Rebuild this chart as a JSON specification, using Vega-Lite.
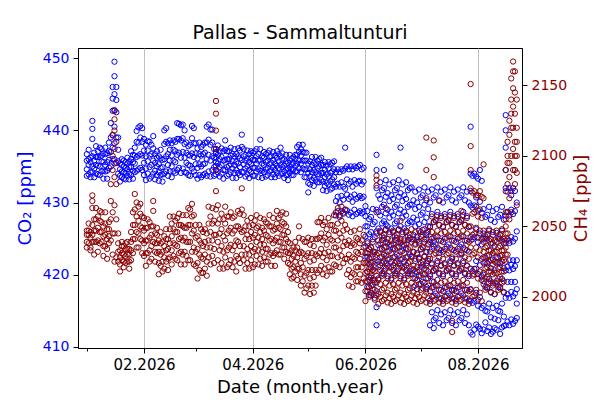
{
  "$schema": "https://vega.github.io/schema/vega-lite/v6.json",
  "width": 444,
  "height": 300,
  "autosize": {"type": "none"},
  "padding": {"left": 78, "top": 48, "right": 78, "bottom": 52},
  "title": {"text": "Pallas - Sammaltunturi", "fontSize": 19, "fontWeight": "normal", "font": "DejaVu Sans", "color": "black", "offset": 5},
  "config": {
    "font": "DejaVu Sans",
    "view": {"stroke": "black", "strokeWidth": 1},
    "axis": {"domainColor": "black", "tickColor": "black", "tickSize": 5, "labelPadding": 4, "titleFontWeight": "normal", "titleFontSize": 18, "labelFontSize": 14, "grid": false}
  },
  "data": {"values": [
{"d":"2026-01-01","c":433.7,"m":2044},{"d":"2026-01-01","c":434.6,"m":2035},{"d":"2026-01-01","c":435.8,"m":2047},{"d":"2026-01-01","c":436.7,"m":2039},
{"d":"2026-01-02","c":433.9,"m":2044},{"d":"2026-01-02","c":435.2,"m":2052},{"d":"2026-01-02","c":436.0,"m":2038},{"d":"2026-01-02","c":437.3,"m":2047},
{"d":"2026-01-03","c":433.5,"m":2042},{"d":"2026-01-03","c":434.2,"m":2033},{"d":"2026-01-03","c":435.6,"m":2046},{"d":"2026-01-03","c":436.2,"m":2035},
{"d":"2026-01-04","c":434.2,"m":2051},{"d":"2026-01-04","c":436.4,"m":2039},{"d":"2026-01-04","c":438.8,"m":2063},{"d":"2026-01-04","c":441.3,"m":2072},{"d":"2026-01-04","c":440.2,"m":2068},{"d":"2026-01-04","c":435.0,"m":2044},
{"d":"2026-01-05","c":433.5,"m":2047},{"d":"2026-01-05","c":434.7,"m":2030},{"d":"2026-01-05","c":435.8,"m":2055},{"d":"2026-01-05","c":436.9,"m":2039},
{"d":"2026-01-06","c":434.0,"m":2055},{"d":"2026-01-06","c":435.2,"m":2039},{"d":"2026-01-06","c":436.3,"m":2063},{"d":"2026-01-06","c":437.8,"m":2047},
{"d":"2026-01-07","c":433.9,"m":2049},{"d":"2026-01-07","c":435.1,"m":2032},{"d":"2026-01-07","c":436.3,"m":2057},{"d":"2026-01-07","c":437.1,"m":2040},
{"d":"2026-01-08","c":433.8,"m":2054},{"d":"2026-01-08","c":435.0,"m":2038},{"d":"2026-01-08","c":436.3,"m":2061},{"d":"2026-01-08","c":437.6,"m":2046},
{"d":"2026-01-09","c":434.3,"m":2053},{"d":"2026-01-09","c":435.7,"m":2039},{"d":"2026-01-09","c":436.5,"m":2060},{"d":"2026-01-09","c":437.4,"m":2046},
{"d":"2026-01-10","c":433.3,"m":2043},{"d":"2026-01-10","c":434.4,"m":2029},{"d":"2026-01-10","c":435.6,"m":2050},{"d":"2026-01-10","c":436.8,"m":2036},
{"d":"2026-01-11","c":434.3,"m":2052},{"d":"2026-01-11","c":435.2,"m":2036},{"d":"2026-01-11","c":436.7,"m":2060},{"d":"2026-01-11","c":437.6,"m":2044},
{"d":"2026-01-12","c":433.3,"m":2041},{"d":"2026-01-12","c":434.4,"m":2027},{"d":"2026-01-12","c":435.6,"m":2048},{"d":"2026-01-12","c":436.8,"m":2034},
{"d":"2026-01-13","c":434.8,"m":2048},{"d":"2026-01-13","c":435.9,"m":2038},{"d":"2026-01-13","c":437.1,"m":2053},{"d":"2026-01-13","c":438.3,"m":2043},
{"d":"2026-01-14","c":435.0,"m":2055},{"d":"2026-01-14","c":437.0,"m":2040},{"d":"2026-01-14","c":439.0,"m":2080},{"d":"2026-01-14","c":441.0,"m":2068},
{"d":"2026-01-15","c":436.0,"m":2060},{"d":"2026-01-15","c":439.3,"m":2030},{"d":"2026-01-15","c":442.7,"m":2115},{"d":"2026-01-15","c":446.0,"m":2090},{"d":"2026-01-15","c":444.4,"m":2100},{"d":"2026-01-15","c":437.6,"m":2045},
{"d":"2026-01-16","c":436.0,"m":2065},{"d":"2026-01-16","c":440.5,"m":2025},{"d":"2026-01-16","c":445.0,"m":2132},{"d":"2026-01-16","c":449.5,"m":2105},{"d":"2026-01-16","c":447.5,"m":2126},{"d":"2026-01-16","c":442.8,"m":2118},{"d":"2026-01-16","c":438.2,"m":2085},{"d":"2026-01-16","c":435.4,"m":2045},
{"d":"2026-01-17","c":435.5,"m":2055},{"d":"2026-01-17","c":439.0,"m":2028},{"d":"2026-01-17","c":442.5,"m":2110},{"d":"2026-01-17","c":446.0,"m":2080},{"d":"2026-01-17","c":444.2,"m":2095},
{"d":"2026-01-18","c":434.0,"m":2032},{"d":"2026-01-18","c":435.7,"m":2025},{"d":"2026-01-18","c":437.3,"m":2045},{"d":"2026-01-18","c":439.0,"m":2038},
{"d":"2026-01-19","c":432.9,"m":2028},{"d":"2026-01-19","c":433.7,"m":2018},{"d":"2026-01-19","c":434.6,"m":2033},{"d":"2026-01-19","c":435.4,"m":2023},
{"d":"2026-01-20","c":433.5,"m":2036},{"d":"2026-01-20","c":434.3,"m":2026},{"d":"2026-01-20","c":435.2,"m":2039},{"d":"2026-01-20","c":436.0,"m":2031},
{"d":"2026-01-21","c":433.3,"m":2030},{"d":"2026-01-21","c":434.2,"m":2021},{"d":"2026-01-21","c":435.0,"m":2036},{"d":"2026-01-21","c":435.8,"m":2025},
{"d":"2026-01-22","c":433.2,"m":2034},{"d":"2026-01-22","c":434.1,"m":2024},{"d":"2026-01-22","c":434.8,"m":2038},{"d":"2026-01-22","c":435.6,"m":2029},
{"d":"2026-01-23","c":433.7,"m":2034},{"d":"2026-01-23","c":434.6,"m":2025},{"d":"2026-01-23","c":435.4,"m":2039},{"d":"2026-01-23","c":436.2,"m":2030},
{"d":"2026-01-24","c":433.2,"m":2030},{"d":"2026-01-24","c":434.0,"m":2020},{"d":"2026-01-24","c":434.9,"m":2034},{"d":"2026-01-24","c":435.7,"m":2025},
{"d":"2026-01-25","c":433.8,"m":2039},{"d":"2026-01-25","c":434.9,"m":2026},{"d":"2026-01-25","c":436.0,"m":2046},{"d":"2026-01-25","c":437.1,"m":2033},
{"d":"2026-01-26","c":433.3,"m":2051},{"d":"2026-01-26","c":434.4,"m":2031},{"d":"2026-01-26","c":435.6,"m":2060},{"d":"2026-01-26","c":436.6,"m":2041},
{"d":"2026-01-27","c":434.2,"m":2062},{"d":"2026-01-27","c":435.4,"m":2041},{"d":"2026-01-27","c":436.5,"m":2073},{"d":"2026-01-27","c":437.6,"m":2051},
{"d":"2026-01-28","c":434.4,"m":2057},{"d":"2026-01-28","c":436.3,"m":2035},{"d":"2026-01-28","c":438.4,"m":2067},{"d":"2026-01-28","c":439.9,"m":2046},
{"d":"2026-01-29","c":434.6,"m":2054},{"d":"2026-01-29","c":436.5,"m":2035},{"d":"2026-01-29","c":438.3,"m":2064},{"d":"2026-01-29","c":440.4,"m":2045},
{"d":"2026-01-30","c":434.8,"m":2059},{"d":"2026-01-30","c":436.7,"m":2041},{"d":"2026-01-30","c":439.0,"m":2066},{"d":"2026-01-30","c":440.6,"m":2050},
{"d":"2026-01-31","c":434.5,"m":2049},{"d":"2026-01-31","c":436.5,"m":2031},{"d":"2026-01-31","c":438.4,"m":2057},{"d":"2026-01-31","c":440.3,"m":2040},
{"d":"2026-02-01","c":433.8,"m":2047},{"d":"2026-02-01","c":435.5,"m":2029},{"d":"2026-02-01","c":437.2,"m":2056},{"d":"2026-02-01","c":438.8,"m":2038},
{"d":"2026-02-02","c":433.1,"m":2040},{"d":"2026-02-02","c":434.7,"m":2022},{"d":"2026-02-02","c":436.4,"m":2049},{"d":"2026-02-02","c":438.0,"m":2031},
{"d":"2026-02-03","c":434.0,"m":2049},{"d":"2026-02-03","c":435.7,"m":2031},{"d":"2026-02-03","c":437.2,"m":2055},{"d":"2026-02-03","c":438.5,"m":2040},
{"d":"2026-02-04","c":433.3,"m":2042},{"d":"2026-02-04","c":434.9,"m":2025},{"d":"2026-02-04","c":436.5,"m":2053},{"d":"2026-02-04","c":438.4,"m":2033},
{"d":"2026-02-05","c":433.6,"m":2044},{"d":"2026-02-05","c":435.2,"m":2027},{"d":"2026-02-05","c":436.7,"m":2050},{"d":"2026-02-05","c":438.0,"m":2036},
{"d":"2026-02-06","c":434.0,"m":2061},{"d":"2026-02-06","c":435.8,"m":2039},{"d":"2026-02-06","c":437.5,"m":2068},{"d":"2026-02-06","c":439.2,"m":2050},
{"d":"2026-02-07","c":433.2,"m":2038},{"d":"2026-02-07","c":434.4,"m":2025},{"d":"2026-02-07","c":435.5,"m":2045},{"d":"2026-02-07","c":436.7,"m":2032},
{"d":"2026-02-08","c":433.8,"m":2044},{"d":"2026-02-08","c":435.0,"m":2031},{"d":"2026-02-08","c":436.2,"m":2049},{"d":"2026-02-08","c":437.1,"m":2038},
{"d":"2026-02-09","c":433.0,"m":2032},{"d":"2026-02-09","c":434.2,"m":2016},{"d":"2026-02-09","c":435.3,"m":2040},{"d":"2026-02-09","c":436.4,"m":2024},
{"d":"2026-02-10","c":433.8,"m":2038},{"d":"2026-02-10","c":434.8,"m":2022},{"d":"2026-02-10","c":436.1,"m":2046},{"d":"2026-02-10","c":437.3,"m":2030},
{"d":"2026-02-11","c":432.9,"m":2032},{"d":"2026-02-11","c":433.9,"m":2018},{"d":"2026-02-11","c":434.9,"m":2039},{"d":"2026-02-11","c":435.9,"m":2025},
{"d":"2026-02-12","c":434.0,"m":2036},{"d":"2026-02-12","c":436.0,"m":2020},{"d":"2026-02-12","c":438.1,"m":2043},{"d":"2026-02-12","c":440.0,"m":2028},
{"d":"2026-02-13","c":434.3,"m":2041},{"d":"2026-02-13","c":436.4,"m":2025},{"d":"2026-02-13","c":438.4,"m":2048},{"d":"2026-02-13","c":440.3,"m":2033},
{"d":"2026-02-14","c":433.7,"m":2034},{"d":"2026-02-14","c":435.2,"m":2019},{"d":"2026-02-14","c":436.7,"m":2041},{"d":"2026-02-14","c":438.2,"m":2027},
{"d":"2026-02-15","c":434.3,"m":2048},{"d":"2026-02-15","c":435.8,"m":2028},{"d":"2026-02-15","c":437.3,"m":2057},{"d":"2026-02-15","c":438.6,"m":2038},
{"d":"2026-02-16","c":433.5,"m":2043},{"d":"2026-02-16","c":435.0,"m":2023},{"d":"2026-02-16","c":436.5,"m":2052},{"d":"2026-02-16","c":438.2,"m":2033},
{"d":"2026-02-17","c":434.3,"m":2048},{"d":"2026-02-17","c":435.8,"m":2029},{"d":"2026-02-17","c":437.3,"m":2057},{"d":"2026-02-17","c":438.6,"m":2038},
{"d":"2026-02-18","c":434.1,"m":2046},{"d":"2026-02-18","c":435.6,"m":2027},{"d":"2026-02-18","c":437.1,"m":2054},{"d":"2026-02-18","c":438.4,"m":2037},
{"d":"2026-02-19","c":434.5,"m":2046},{"d":"2026-02-19","c":436.6,"m":2026},{"d":"2026-02-19","c":438.8,"m":2056},{"d":"2026-02-19","c":441.0,"m":2036},
{"d":"2026-02-20","c":434.8,"m":2051},{"d":"2026-02-20","c":436.9,"m":2031},{"d":"2026-02-20","c":438.8,"m":2059},{"d":"2026-02-20","c":440.9,"m":2041},
{"d":"2026-02-21","c":434.1,"m":2042},{"d":"2026-02-21","c":436.2,"m":2023},{"d":"2026-02-21","c":438.6,"m":2051},{"d":"2026-02-21","c":440.7,"m":2032},
{"d":"2026-02-22","c":434.7,"m":2050},{"d":"2026-02-22","c":437.0,"m":2030},{"d":"2026-02-22","c":438.9,"m":2058},{"d":"2026-02-22","c":440.8,"m":2040},
{"d":"2026-02-23","c":434.2,"m":2042},{"d":"2026-02-23","c":436.2,"m":2023},{"d":"2026-02-23","c":438.1,"m":2049},{"d":"2026-02-23","c":440.0,"m":2032},
{"d":"2026-02-24","c":434.1,"m":2049},{"d":"2026-02-24","c":435.5,"m":2029},{"d":"2026-02-24","c":436.9,"m":2058},{"d":"2026-02-24","c":438.3,"m":2039},
{"d":"2026-02-25","c":433.8,"m":2051},{"d":"2026-02-25","c":435.2,"m":2026},{"d":"2026-02-25","c":436.6,"m":2063},{"d":"2026-02-25","c":437.8,"m":2039},
{"d":"2026-02-26","c":433.7,"m":2051},{"d":"2026-02-26","c":435.1,"m":2026},{"d":"2026-02-26","c":436.5,"m":2062},{"d":"2026-02-26","c":438.0,"m":2039},
{"d":"2026-02-27","c":434.7,"m":2057},{"d":"2026-02-27","c":436.8,"m":2032},{"d":"2026-02-27","c":438.9,"m":2066},{"d":"2026-02-27","c":440.6,"m":2045},
{"d":"2026-02-28","c":434.3,"m":2047},{"d":"2026-02-28","c":436.3,"m":2023},{"d":"2026-02-28","c":438.2,"m":2058},{"d":"2026-02-28","c":440.3,"m":2035},
{"d":"2026-03-01","c":433.8,"m":2042},{"d":"2026-03-01","c":435.3,"m":2022},{"d":"2026-03-01","c":436.8,"m":2051},{"d":"2026-03-01","c":438.2,"m":2032},
{"d":"2026-03-02","c":433.3,"m":2034},{"d":"2026-03-02","c":434.8,"m":2013},{"d":"2026-03-02","c":436.1,"m":2043},{"d":"2026-03-02","c":437.5,"m":2024},
{"d":"2026-03-03","c":433.8,"m":2040},{"d":"2026-03-03","c":435.3,"m":2019},{"d":"2026-03-03","c":436.7,"m":2051},{"d":"2026-03-03","c":438.3,"m":2030},
{"d":"2026-03-04","c":433.5,"m":2038},{"d":"2026-03-04","c":435.0,"m":2017},{"d":"2026-03-04","c":436.5,"m":2048},{"d":"2026-03-04","c":437.7,"m":2028},
{"d":"2026-03-05","c":433.8,"m":2036},{"d":"2026-03-05","c":435.3,"m":2017},{"d":"2026-03-05","c":436.7,"m":2046},{"d":"2026-03-05","c":438.0,"m":2027},
{"d":"2026-03-06","c":434.0,"m":2039},{"d":"2026-03-06","c":435.4,"m":2020},{"d":"2026-03-06","c":436.9,"m":2048},{"d":"2026-03-06","c":438.3,"m":2030},
{"d":"2026-03-07","c":433.7,"m":2035},{"d":"2026-03-07","c":436.0,"m":2015},{"d":"2026-03-07","c":438.3,"m":2045},{"d":"2026-03-07","c":440.5,"m":2025},
{"d":"2026-03-08","c":434.3,"m":2052},{"d":"2026-03-08","c":436.6,"m":2028},{"d":"2026-03-08","c":438.7,"m":2064},{"d":"2026-03-08","c":440.8,"m":2040},
{"d":"2026-03-09","c":433.6,"m":2046},{"d":"2026-03-09","c":435.8,"m":2023},{"d":"2026-03-09","c":438.0,"m":2057},{"d":"2026-03-09","c":440.1,"m":2035},
{"d":"2026-03-10","c":434.5,"m":2052},{"d":"2026-03-10","c":436.4,"m":2029},{"d":"2026-03-10","c":438.3,"m":2063},{"d":"2026-03-10","c":440.1,"m":2040},
{"d":"2026-03-11","c":433.7,"m":2044},{"d":"2026-03-11","c":434.9,"m":2024},{"d":"2026-03-11","c":436.2,"m":2054},{"d":"2026-03-11","c":437.4,"m":2034},
{"d":"2026-03-12","c":433.9,"m":2075},{"d":"2026-03-12","c":435.1,"m":2044},{"d":"2026-03-12","c":436.2,"m":2139},{"d":"2026-03-12","c":437.4,"m":2105},{"d":"2026-03-12","c":436.8,"m":2130},{"d":"2026-03-12","c":435.6,"m":2118},{"d":"2026-03-12","c":434.5,"m":2090},{"d":"2026-03-12","c":437.0,"m":2062},
{"d":"2026-03-13","c":434.2,"m":2052},{"d":"2026-03-13","c":435.4,"m":2026},{"d":"2026-03-13","c":436.6,"m":2065},{"d":"2026-03-13","c":437.9,"m":2039},
{"d":"2026-03-14","c":433.6,"m":2045},{"d":"2026-03-14","c":434.9,"m":2020},{"d":"2026-03-14","c":436.0,"m":2055},{"d":"2026-03-14","c":437.1,"m":2033},
{"d":"2026-03-15","c":434.0,"m":2048},{"d":"2026-03-15","c":435.2,"m":2024},{"d":"2026-03-15","c":436.3,"m":2059},{"d":"2026-03-15","c":437.5,"m":2036},
{"d":"2026-03-16","c":433.3,"m":2043},{"d":"2026-03-16","c":434.5,"m":2020},{"d":"2026-03-16","c":435.8,"m":2055},{"d":"2026-03-16","c":437.1,"m":2032},
{"d":"2026-03-17","c":434.5,"m":2052},{"d":"2026-03-17","c":435.9,"m":2028},{"d":"2026-03-17","c":437.3,"m":2064},{"d":"2026-03-17","c":438.6,"m":2040},
{"d":"2026-03-18","c":433.7,"m":2045},{"d":"2026-03-18","c":434.9,"m":2021},{"d":"2026-03-18","c":436.0,"m":2057},{"d":"2026-03-18","c":437.1,"m":2033},
{"d":"2026-03-19","c":433.9,"m":2047},{"d":"2026-03-19","c":435.1,"m":2023},{"d":"2026-03-19","c":436.0,"m":2057},{"d":"2026-03-19","c":437.1,"m":2035},
{"d":"2026-03-20","c":434.2,"m":2049},{"d":"2026-03-20","c":435.3,"m":2026},{"d":"2026-03-20","c":436.5,"m":2060},{"d":"2026-03-20","c":437.6,"m":2037},
{"d":"2026-03-21","c":433.4,"m":2045},{"d":"2026-03-21","c":434.7,"m":2021},{"d":"2026-03-21","c":435.7,"m":2056},{"d":"2026-03-21","c":436.7,"m":2033},
{"d":"2026-03-22","c":434.1,"m":2047},{"d":"2026-03-22","c":435.2,"m":2025},{"d":"2026-03-22","c":436.4,"m":2057},{"d":"2026-03-22","c":437.4,"m":2036},
{"d":"2026-03-23","c":433.4,"m":2040},{"d":"2026-03-23","c":434.5,"m":2018},{"d":"2026-03-23","c":435.6,"m":2050},{"d":"2026-03-23","c":436.7,"m":2029},
{"d":"2026-03-24","c":434.1,"m":2050},{"d":"2026-03-24","c":435.4,"m":2027},{"d":"2026-03-24","c":436.4,"m":2061},{"d":"2026-03-24","c":437.5,"m":2039},
{"d":"2026-03-25","c":433.8,"m":2048},{"d":"2026-03-25","c":434.9,"m":2024},{"d":"2026-03-25","c":436.1,"m":2059},{"d":"2026-03-25","c":437.2,"m":2036},
{"d":"2026-03-26","c":434.2,"m":2062},{"d":"2026-03-26","c":435.9,"m":2030},{"d":"2026-03-26","c":437.7,"m":2077},{"d":"2026-03-26","c":439.4,"m":2046},
{"d":"2026-03-27","c":434.2,"m":2047},{"d":"2026-03-27","c":435.3,"m":2026},{"d":"2026-03-27","c":436.4,"m":2058},{"d":"2026-03-27","c":437.4,"m":2036},
{"d":"2026-03-28","c":433.6,"m":2041},{"d":"2026-03-28","c":434.7,"m":2020},{"d":"2026-03-28","c":435.8,"m":2050},{"d":"2026-03-28","c":436.6,"m":2030},
{"d":"2026-03-29","c":433.9,"m":2044},{"d":"2026-03-29","c":435.0,"m":2024},{"d":"2026-03-29","c":436.1,"m":2054},{"d":"2026-03-29","c":437.2,"m":2034},
{"d":"2026-03-30","c":433.4,"m":2041},{"d":"2026-03-30","c":434.5,"m":2020},{"d":"2026-03-30","c":435.6,"m":2050},{"d":"2026-03-30","c":436.7,"m":2030},
{"d":"2026-03-31","c":434.2,"m":2046},{"d":"2026-03-31","c":435.3,"m":2026},{"d":"2026-03-31","c":436.2,"m":2056},{"d":"2026-03-31","c":437.1,"m":2036},
{"d":"2026-04-01","c":433.7,"m":2042},{"d":"2026-04-01","c":434.8,"m":2021},{"d":"2026-04-01","c":435.9,"m":2051},{"d":"2026-04-01","c":436.9,"m":2032},
{"d":"2026-04-02","c":433.7,"m":2044},{"d":"2026-04-02","c":434.8,"m":2023},{"d":"2026-04-02","c":435.9,"m":2054},{"d":"2026-04-02","c":437.1,"m":2034},
{"d":"2026-04-03","c":434.3,"m":2049},{"d":"2026-04-03","c":435.4,"m":2029},{"d":"2026-04-03","c":436.4,"m":2058},{"d":"2026-04-03","c":437.4,"m":2039},
{"d":"2026-04-04","c":433.5,"m":2042},{"d":"2026-04-04","c":434.6,"m":2023},{"d":"2026-04-04","c":435.8,"m":2050},{"d":"2026-04-04","c":436.7,"m":2033},
{"d":"2026-04-05","c":434.4,"m":2046},{"d":"2026-04-05","c":435.9,"m":2027},{"d":"2026-04-05","c":437.4,"m":2056},{"d":"2026-04-05","c":438.7,"m":2037},
{"d":"2026-04-06","c":433.4,"m":2041},{"d":"2026-04-06","c":434.4,"m":2022},{"d":"2026-04-06","c":435.4,"m":2049},{"d":"2026-04-06","c":436.4,"m":2032},
{"d":"2026-04-07","c":434.2,"m":2047},{"d":"2026-04-07","c":435.2,"m":2028},{"d":"2026-04-07","c":436.2,"m":2055},{"d":"2026-04-07","c":437.0,"m":2037},
{"d":"2026-04-08","c":433.6,"m":2044},{"d":"2026-04-08","c":434.6,"m":2025},{"d":"2026-04-08","c":435.6,"m":2053},{"d":"2026-04-08","c":436.7,"m":2034},
{"d":"2026-04-09","c":433.8,"m":2043},{"d":"2026-04-09","c":434.8,"m":2025},{"d":"2026-04-09","c":435.8,"m":2052},{"d":"2026-04-09","c":436.9,"m":2034},
{"d":"2026-04-10","c":434.3,"m":2050},{"d":"2026-04-10","c":435.3,"m":2030},{"d":"2026-04-10","c":436.3,"m":2058},{"d":"2026-04-10","c":437.2,"m":2040},
{"d":"2026-04-11","c":433.5,"m":2041},{"d":"2026-04-11","c":434.5,"m":2022},{"d":"2026-04-11","c":435.5,"m":2050},{"d":"2026-04-11","c":436.4,"m":2031},
{"d":"2026-04-12","c":433.9,"m":2047},{"d":"2026-04-12","c":434.9,"m":2029},{"d":"2026-04-12","c":435.9,"m":2056},{"d":"2026-04-12","c":437.0,"m":2038},
{"d":"2026-04-13","c":433.5,"m":2040},{"d":"2026-04-13","c":434.5,"m":2022},{"d":"2026-04-13","c":435.4,"m":2048},{"d":"2026-04-13","c":436.5,"m":2031},
{"d":"2026-04-14","c":434.1,"m":2052},{"d":"2026-04-14","c":435.1,"m":2033},{"d":"2026-04-14","c":436.2,"m":2061},{"d":"2026-04-14","c":437.1,"m":2042},
{"d":"2026-04-15","c":433.7,"m":2049},{"d":"2026-04-15","c":434.8,"m":2030},{"d":"2026-04-15","c":435.7,"m":2056},{"d":"2026-04-15","c":436.7,"m":2039},
{"d":"2026-04-16","c":434.0,"m":2048},{"d":"2026-04-16","c":435.2,"m":2030},{"d":"2026-04-16","c":436.4,"m":2058},{"d":"2026-04-16","c":437.6,"m":2039},
{"d":"2026-04-17","c":434.0,"m":2053},{"d":"2026-04-17","c":434.9,"m":2035},{"d":"2026-04-17","c":435.9,"m":2060},{"d":"2026-04-17","c":436.8,"m":2044},
{"d":"2026-04-18","c":433.4,"m":2044},{"d":"2026-04-18","c":434.3,"m":2027},{"d":"2026-04-18","c":435.1,"m":2052},{"d":"2026-04-18","c":436.0,"m":2035},
{"d":"2026-04-19","c":433.8,"m":2050},{"d":"2026-04-19","c":434.7,"m":2032},{"d":"2026-04-19","c":435.7,"m":2059},{"d":"2026-04-19","c":436.6,"m":2041},
{"d":"2026-04-20","c":433.1,"m":2039},{"d":"2026-04-20","c":433.9,"m":2024},{"d":"2026-04-20","c":434.7,"m":2046},{"d":"2026-04-20","c":435.5,"m":2031},
{"d":"2026-04-21","c":434.1,"m":2031},{"d":"2026-04-21","c":434.9,"m":2016},{"d":"2026-04-21","c":435.8,"m":2038},{"d":"2026-04-21","c":436.6,"m":2023},
{"d":"2026-04-22","c":433.8,"m":2027},{"d":"2026-04-22","c":434.6,"m":2013},{"d":"2026-04-22","c":435.3,"m":2033},{"d":"2026-04-22","c":436.1,"m":2020},
{"d":"2026-04-23","c":433.8,"m":2029},{"d":"2026-04-23","c":434.6,"m":2014},{"d":"2026-04-23","c":435.5,"m":2035},{"d":"2026-04-23","c":436.3,"m":2021},
{"d":"2026-04-24","c":434.3,"m":2033},{"d":"2026-04-24","c":435.1,"m":2018},{"d":"2026-04-24","c":436.0,"m":2039},{"d":"2026-04-24","c":436.6,"m":2025},
{"d":"2026-04-25","c":434.3,"m":2028},{"d":"2026-04-25","c":435.4,"m":2012},{"d":"2026-04-25","c":436.6,"m":2035},{"d":"2026-04-25","c":437.7,"m":2020},
{"d":"2026-04-26","c":434.7,"m":2042},{"d":"2026-04-26","c":435.8,"m":2020},{"d":"2026-04-26","c":437.0,"m":2050},{"d":"2026-04-26","c":438.0,"m":2031},
{"d":"2026-04-27","c":434.2,"m":2024},{"d":"2026-04-27","c":435.4,"m":2008},{"d":"2026-04-27","c":436.5,"m":2032},{"d":"2026-04-27","c":437.4,"m":2016},
{"d":"2026-04-28","c":434.7,"m":2031},{"d":"2026-04-28","c":435.8,"m":2011},{"d":"2026-04-28","c":437.0,"m":2041},{"d":"2026-04-28","c":438.0,"m":2021},
{"d":"2026-04-29","c":433.5,"m":2027},{"d":"2026-04-29","c":434.6,"m":2003},{"d":"2026-04-29","c":435.8,"m":2039},{"d":"2026-04-29","c":436.9,"m":2015},
{"d":"2026-04-30","c":433.5,"m":2029},{"d":"2026-04-30","c":434.6,"m":2006},{"d":"2026-04-30","c":435.8,"m":2039},{"d":"2026-04-30","c":436.9,"m":2017},
{"d":"2026-05-01","c":431.4,"m":2031},{"d":"2026-05-01","c":432.7,"m":2008},{"d":"2026-05-01","c":434.1,"m":2042},{"d":"2026-05-01","c":435.4,"m":2019},
{"d":"2026-05-02","c":432.5,"m":2025},{"d":"2026-05-02","c":433.6,"m":2002},{"d":"2026-05-02","c":434.6,"m":2037},{"d":"2026-05-02","c":435.7,"m":2013},
{"d":"2026-05-03","c":433.1,"m":2031},{"d":"2026-05-03","c":434.2,"m":2008},{"d":"2026-05-03","c":435.2,"m":2041},{"d":"2026-05-03","c":436.3,"m":2019},
{"d":"2026-05-04","c":432.3,"m":2026},{"d":"2026-05-04","c":433.4,"m":2003},{"d":"2026-05-04","c":434.5,"m":2036},{"d":"2026-05-04","c":435.5,"m":2014},
{"d":"2026-05-05","c":433.1,"m":2030},{"d":"2026-05-05","c":434.2,"m":2008},{"d":"2026-05-05","c":435.3,"m":2041},{"d":"2026-05-05","c":436.3,"m":2019},
{"d":"2026-05-06","c":432.8,"m":2041},{"d":"2026-05-06","c":433.9,"m":2017},{"d":"2026-05-06","c":434.8,"m":2053},{"d":"2026-05-06","c":435.8,"m":2029},
{"d":"2026-05-07","c":432.8,"m":2042},{"d":"2026-05-07","c":433.9,"m":2019},{"d":"2026-05-07","c":435.0,"m":2053},{"d":"2026-05-07","c":436.0,"m":2031},
{"d":"2026-05-08","c":433.1,"m":2045},{"d":"2026-05-08","c":434.1,"m":2022},{"d":"2026-05-08","c":435.2,"m":2056},{"d":"2026-05-08","c":436.2,"m":2034},
{"d":"2026-05-09","c":431.7,"m":2040},{"d":"2026-05-09","c":432.9,"m":2016},{"d":"2026-05-09","c":434.1,"m":2051},{"d":"2026-05-09","c":435.2,"m":2028},
{"d":"2026-05-10","c":432.3,"m":2042},{"d":"2026-05-10","c":433.5,"m":2020},{"d":"2026-05-10","c":434.5,"m":2053},{"d":"2026-05-10","c":435.6,"m":2031},
{"d":"2026-05-11","c":431.6,"m":2037},{"d":"2026-05-11","c":432.7,"m":2015},{"d":"2026-05-11","c":433.9,"m":2048},{"d":"2026-05-11","c":435.1,"m":2026},
{"d":"2026-05-12","c":432.5,"m":2044},{"d":"2026-05-12","c":433.6,"m":2021},{"d":"2026-05-12","c":434.7,"m":2056},{"d":"2026-05-12","c":435.6,"m":2032},
{"d":"2026-05-13","c":431.8,"m":2041},{"d":"2026-05-13","c":432.9,"m":2018},{"d":"2026-05-13","c":434.1,"m":2051},{"d":"2026-05-13","c":435.3,"m":2029},
{"d":"2026-05-14","c":432.0,"m":2040},{"d":"2026-05-14","c":433.2,"m":2018},{"d":"2026-05-14","c":434.3,"m":2051},{"d":"2026-05-14","c":435.5,"m":2029},
{"d":"2026-05-15","c":432.5,"m":2047},{"d":"2026-05-15","c":433.5,"m":2023},{"d":"2026-05-15","c":434.6,"m":2058},{"d":"2026-05-15","c":435.7,"m":2035},
{"d":"2026-05-16","c":428.2,"m":2047},{"d":"2026-05-16","c":430.2,"m":2022},{"d":"2026-05-16","c":432.2,"m":2060},{"d":"2026-05-16","c":434.2,"m":2035},
{"d":"2026-05-17","c":428.8,"m":2052},{"d":"2026-05-17","c":430.8,"m":2028},{"d":"2026-05-17","c":432.6,"m":2063},{"d":"2026-05-17","c":434.6,"m":2040},
{"d":"2026-05-18","c":428.0,"m":2045},{"d":"2026-05-18","c":430.0,"m":2021},{"d":"2026-05-18","c":432.2,"m":2058},{"d":"2026-05-18","c":434.2,"m":2033},
{"d":"2026-05-19","c":428.8,"m":2054},{"d":"2026-05-19","c":430.9,"m":2029},{"d":"2026-05-19","c":432.8,"m":2064},{"d":"2026-05-19","c":434.6,"m":2042},
{"d":"2026-05-20","c":428.6,"m":2047},{"d":"2026-05-20","c":430.4,"m":2024},{"d":"2026-05-20","c":432.2,"m":2059},{"d":"2026-05-20","c":434.4,"m":2036},
{"d":"2026-05-21","c":429.0,"m":2051},{"d":"2026-05-21","c":431.9,"m":2027},{"d":"2026-05-21","c":434.7,"m":2062},{"d":"2026-05-21","c":437.6,"m":2039},
{"d":"2026-05-22","c":428.9,"m":2037},{"d":"2026-05-22","c":431.1,"m":2016},{"d":"2026-05-22","c":433.2,"m":2048},{"d":"2026-05-22","c":435.0,"m":2027},
{"d":"2026-05-23","c":428.3,"m":2030},{"d":"2026-05-23","c":430.5,"m":2008},{"d":"2026-05-23","c":432.6,"m":2040},{"d":"2026-05-23","c":434.6,"m":2019},
{"d":"2026-05-24","c":428.6,"m":2036},{"d":"2026-05-24","c":430.8,"m":2014},{"d":"2026-05-24","c":432.9,"m":2046},{"d":"2026-05-24","c":435.0,"m":2025},
{"d":"2026-05-25","c":428.1,"m":2028},{"d":"2026-05-25","c":430.1,"m":2007},{"d":"2026-05-25","c":432.2,"m":2038},{"d":"2026-05-25","c":434.6,"m":2017},
{"d":"2026-05-26","c":429.0,"m":2037},{"d":"2026-05-26","c":431.1,"m":2016},{"d":"2026-05-26","c":433.1,"m":2047},{"d":"2026-05-26","c":435.0,"m":2027},
{"d":"2026-05-27","c":428.4,"m":2032},{"d":"2026-05-27","c":430.5,"m":2011},{"d":"2026-05-27","c":432.6,"m":2042},{"d":"2026-05-27","c":434.8,"m":2021},
{"d":"2026-05-28","c":428.6,"m":2031},{"d":"2026-05-28","c":430.7,"m":2011},{"d":"2026-05-28","c":432.9,"m":2041},{"d":"2026-05-28","c":435.0,"m":2021},
{"d":"2026-05-29","c":428.8,"m":2038},{"d":"2026-05-29","c":430.9,"m":2016},{"d":"2026-05-29","c":433.0,"m":2048},{"d":"2026-05-29","c":435.2,"m":2027},
{"d":"2026-05-30","c":428.5,"m":2032},{"d":"2026-05-30","c":430.6,"m":2010},{"d":"2026-05-30","c":432.5,"m":2040},{"d":"2026-05-30","c":434.6,"m":2021},
{"d":"2026-05-31","c":428.7,"m":2035},{"d":"2026-05-31","c":430.8,"m":2013},{"d":"2026-05-31","c":432.9,"m":2044},{"d":"2026-05-31","c":434.8,"m":2024},
{"d":"2026-06-01","c":422.5,"m":2011},{"d":"2026-06-01","c":423.9,"m":2031},{"d":"2026-06-01","c":425.3,"m":1997},{"d":"2026-06-01","c":426.7,"m":2017},{"d":"2026-06-01","c":428.1,"m":2004},{"d":"2026-06-01","c":429.5,"m":2024},
{"d":"2026-06-02","c":418.3,"m":2018},{"d":"2026-06-02","c":420.4,"m":2038},{"d":"2026-06-02","c":422.5,"m":2004},{"d":"2026-06-02","c":424.6,"m":2024},{"d":"2026-06-02","c":426.7,"m":2011},{"d":"2026-06-02","c":428.8,"m":2031},
{"d":"2026-06-03","c":417.2,"m":2014},{"d":"2026-06-03","c":419.3,"m":2034},{"d":"2026-06-03","c":421.4,"m":2000},{"d":"2026-06-03","c":423.5,"m":2020},{"d":"2026-06-03","c":425.6,"m":2007},{"d":"2026-06-03","c":427.7,"m":2027},
{"d":"2026-06-04","c":417.5,"m":2015},{"d":"2026-06-04","c":419.6,"m":2035},{"d":"2026-06-04","c":421.7,"m":2001},{"d":"2026-06-04","c":423.8,"m":2021},{"d":"2026-06-04","c":425.9,"m":2008},{"d":"2026-06-04","c":428.0,"m":2028},
{"d":"2026-06-05","c":418.6,"m":2019},{"d":"2026-06-05","c":420.7,"m":2039},{"d":"2026-06-05","c":422.8,"m":2005},{"d":"2026-06-05","c":424.9,"m":2025},{"d":"2026-06-05","c":427.0,"m":2012},{"d":"2026-06-05","c":429.1,"m":2032},
{"d":"2026-06-06","c":416.8,"m":2012},{"d":"2026-06-06","c":418.9,"m":2032},{"d":"2026-06-06","c":421.0,"m":1998},{"d":"2026-06-06","c":423.1,"m":2018},{"d":"2026-06-06","c":425.2,"m":2005},{"d":"2026-06-06","c":427.3,"m":2025},
{"d":"2026-06-07","c":413.0,"m":2010},{"d":"2026-06-07","c":415.5,"m":2060},{"d":"2026-06-07","c":417.7,"m":2001},{"d":"2026-06-07","c":422.0,"m":2030},{"d":"2026-06-07","c":426.0,"m":2015},{"d":"2026-06-07","c":432.0,"m":2045},{"d":"2026-06-07","c":434.5,"m":2083},{"d":"2026-06-07","c":436.6,"m":2086},{"d":"2026-06-07","c":429.0,"m":2079},
{"d":"2026-06-08","c":419.5,"m":2012},{"d":"2026-06-08","c":421.8,"m":2040},{"d":"2026-06-08","c":424.1,"m":1995},{"d":"2026-06-08","c":426.4,"m":2021},{"d":"2026-06-08","c":428.7,"m":2002},{"d":"2026-06-08","c":431.0,"m":2031},
{"d":"2026-06-09","c":421.3,"m":2019},{"d":"2026-06-09","c":423.6,"m":2047},{"d":"2026-06-09","c":425.9,"m":2000},{"d":"2026-06-09","c":428.2,"m":2028},{"d":"2026-06-09","c":430.5,"m":2009},{"d":"2026-06-09","c":432.8,"m":2038},
{"d":"2026-06-10","c":420.2,"m":2015},{"d":"2026-06-10","c":422.5,"m":2043},{"d":"2026-06-10","c":424.8,"m":1997},{"d":"2026-06-10","c":427.1,"m":2024},{"d":"2026-06-10","c":429.4,"m":2005},{"d":"2026-06-10","c":431.7,"m":2034},
{"d":"2026-06-11","c":420.5,"m":2016},{"d":"2026-06-11","c":422.8,"m":2044},{"d":"2026-06-11","c":425.1,"m":1998},{"d":"2026-06-11","c":427.4,"m":2025},{"d":"2026-06-11","c":429.7,"m":2006},{"d":"2026-06-11","c":432.0,"m":2035},{"d":"2026-06-11","c":434.5,"m":2030},
{"d":"2026-06-12","c":421.6,"m":2020},{"d":"2026-06-12","c":423.9,"m":2048},{"d":"2026-06-12","c":426.2,"m":2001},{"d":"2026-06-12","c":428.5,"m":2029},{"d":"2026-06-12","c":430.8,"m":2010},{"d":"2026-06-12","c":433.1,"m":2039},{"d":"2026-06-12","c":427.0,"m":2063},
{"d":"2026-06-13","c":419.8,"m":2013},{"d":"2026-06-13","c":422.1,"m":2041},{"d":"2026-06-13","c":424.4,"m":1996},{"d":"2026-06-13","c":426.7,"m":2022},{"d":"2026-06-13","c":429.0,"m":2003},{"d":"2026-06-13","c":431.3,"m":2032},
{"d":"2026-06-14","c":421.0,"m":2018},{"d":"2026-06-14","c":423.3,"m":2046},{"d":"2026-06-14","c":425.6,"m":1999},{"d":"2026-06-14","c":427.9,"m":2027},{"d":"2026-06-14","c":430.2,"m":2008},{"d":"2026-06-14","c":432.5,"m":2037},
{"d":"2026-06-15","c":419.5,"m":2021},{"d":"2026-06-15","c":421.8,"m":2002},{"d":"2026-06-15","c":424.1,"m":2040},{"d":"2026-06-15","c":426.4,"m":1995},{"d":"2026-06-15","c":428.7,"m":2031},{"d":"2026-06-15","c":431.0,"m":2012},
{"d":"2026-06-16","c":421.3,"m":2028},{"d":"2026-06-16","c":423.6,"m":2000},{"d":"2026-06-16","c":425.9,"m":2047},{"d":"2026-06-16","c":428.2,"m":2009},{"d":"2026-06-16","c":430.5,"m":2038},{"d":"2026-06-16","c":432.8,"m":2019},
{"d":"2026-06-17","c":420.2,"m":2024},{"d":"2026-06-17","c":422.5,"m":1997},{"d":"2026-06-17","c":424.8,"m":2043},{"d":"2026-06-17","c":427.1,"m":2005},{"d":"2026-06-17","c":429.4,"m":2034},{"d":"2026-06-17","c":431.7,"m":2015},
{"d":"2026-06-18","c":420.5,"m":2025},{"d":"2026-06-18","c":422.8,"m":1998},{"d":"2026-06-18","c":425.1,"m":2044},{"d":"2026-06-18","c":427.4,"m":2006},{"d":"2026-06-18","c":429.7,"m":2035},{"d":"2026-06-18","c":432.0,"m":2016},
{"d":"2026-06-19","c":421.6,"m":2029},{"d":"2026-06-19","c":423.9,"m":2001},{"d":"2026-06-19","c":426.2,"m":2048},{"d":"2026-06-19","c":428.5,"m":2010},{"d":"2026-06-19","c":430.8,"m":2039},{"d":"2026-06-19","c":433.1,"m":2020},
{"d":"2026-06-20","c":419.8,"m":2022},{"d":"2026-06-20","c":422.1,"m":1996},{"d":"2026-06-20","c":424.4,"m":2041},{"d":"2026-06-20","c":426.7,"m":2003},{"d":"2026-06-20","c":429.0,"m":2032},{"d":"2026-06-20","c":431.3,"m":2013},{"d":"2026-06-20","c":437.6,"m":2054},{"d":"2026-06-20","c":435.0,"m":2040},
{"d":"2026-06-21","c":421.0,"m":2027},{"d":"2026-06-21","c":423.3,"m":1999},{"d":"2026-06-21","c":425.6,"m":2046},{"d":"2026-06-21","c":427.9,"m":2008},{"d":"2026-06-21","c":430.2,"m":2037},{"d":"2026-06-21","c":432.5,"m":2018},
{"d":"2026-06-22","c":419.5,"m":2012},{"d":"2026-06-22","c":421.8,"m":2040},{"d":"2026-06-22","c":424.1,"m":1995},{"d":"2026-06-22","c":426.4,"m":2021},{"d":"2026-06-22","c":428.7,"m":2002},{"d":"2026-06-22","c":431.0,"m":2031},
{"d":"2026-06-23","c":421.3,"m":2019},{"d":"2026-06-23","c":423.6,"m":2047},{"d":"2026-06-23","c":425.9,"m":2000},{"d":"2026-06-23","c":428.2,"m":2028},{"d":"2026-06-23","c":430.5,"m":2009},{"d":"2026-06-23","c":432.8,"m":2038},
{"d":"2026-06-24","c":420.2,"m":2015},{"d":"2026-06-24","c":422.5,"m":2043},{"d":"2026-06-24","c":424.8,"m":1997},{"d":"2026-06-24","c":427.1,"m":2024},{"d":"2026-06-24","c":429.4,"m":2005},{"d":"2026-06-24","c":431.7,"m":2034},
{"d":"2026-06-25","c":420.5,"m":2016},{"d":"2026-06-25","c":422.8,"m":2044},{"d":"2026-06-25","c":425.1,"m":1998},{"d":"2026-06-25","c":427.4,"m":2025},{"d":"2026-06-25","c":429.7,"m":2006},{"d":"2026-06-25","c":432.0,"m":2035},
{"d":"2026-06-26","c":420.1,"m":2020},{"d":"2026-06-26","c":422.5,"m":2048},{"d":"2026-06-26","c":424.9,"m":2001},{"d":"2026-06-26","c":427.3,"m":2029},{"d":"2026-06-26","c":429.7,"m":2010},{"d":"2026-06-26","c":432.1,"m":2039},
{"d":"2026-06-27","c":418.3,"m":2013},{"d":"2026-06-27","c":420.7,"m":2041},{"d":"2026-06-27","c":423.1,"m":1996},{"d":"2026-06-27","c":425.5,"m":2022},{"d":"2026-06-27","c":427.9,"m":2003},{"d":"2026-06-27","c":430.3,"m":2032},
{"d":"2026-06-28","c":419.5,"m":2027},{"d":"2026-06-28","c":421.9,"m":1999},{"d":"2026-06-28","c":424.3,"m":2046},{"d":"2026-06-28","c":426.7,"m":2008},{"d":"2026-06-28","c":429.1,"m":2037},{"d":"2026-06-28","c":431.5,"m":2018},
{"d":"2026-06-29","c":418.0,"m":2021},{"d":"2026-06-29","c":420.4,"m":1995},{"d":"2026-06-29","c":422.8,"m":2040},{"d":"2026-06-29","c":425.2,"m":2002},{"d":"2026-06-29","c":427.6,"m":2031},{"d":"2026-06-29","c":430.0,"m":2012},
{"d":"2026-06-30","c":419.8,"m":2019},{"d":"2026-06-30","c":422.2,"m":2047},{"d":"2026-06-30","c":424.6,"m":2000},{"d":"2026-06-30","c":427.0,"m":2028},{"d":"2026-06-30","c":429.4,"m":2009},{"d":"2026-06-30","c":431.8,"m":2038},
{"d":"2026-07-01","c":418.7,"m":2015},{"d":"2026-07-01","c":421.1,"m":2043},{"d":"2026-07-01","c":423.5,"m":1997},{"d":"2026-07-01","c":425.9,"m":2024},{"d":"2026-07-01","c":428.3,"m":2005},{"d":"2026-07-01","c":430.7,"m":2034},
{"d":"2026-07-02","c":419.0,"m":2025},{"d":"2026-07-02","c":421.4,"m":1998},{"d":"2026-07-02","c":423.8,"m":2044},{"d":"2026-07-02","c":426.2,"m":2006},{"d":"2026-07-02","c":428.6,"m":2035},{"d":"2026-07-02","c":431.0,"m":2016},
{"d":"2026-07-03","c":420.1,"m":2029},{"d":"2026-07-03","c":422.5,"m":2001},{"d":"2026-07-03","c":424.9,"m":2048},{"d":"2026-07-03","c":427.3,"m":2010},{"d":"2026-07-03","c":429.7,"m":2039},{"d":"2026-07-03","c":432.1,"m":2020},
{"d":"2026-07-04","c":418.3,"m":2013},{"d":"2026-07-04","c":420.7,"m":2041},{"d":"2026-07-04","c":423.1,"m":1996},{"d":"2026-07-04","c":425.5,"m":2022},{"d":"2026-07-04","c":427.9,"m":2003},{"d":"2026-07-04","c":430.3,"m":2032},{"d":"2026-07-04","c":421.6,"m":2113},{"d":"2026-07-04","c":425.8,"m":2090},{"d":"2026-07-04","c":418.0,"m":2070},
{"d":"2026-07-05","c":419.5,"m":2018},{"d":"2026-07-05","c":421.9,"m":2046},{"d":"2026-07-05","c":424.3,"m":1999},{"d":"2026-07-05","c":426.7,"m":2027},{"d":"2026-07-05","c":429.1,"m":2008},{"d":"2026-07-05","c":431.5,"m":2037},
{"d":"2026-07-06","c":413.0,"m":2016},{"d":"2026-07-06","c":416.4,"m":2050},{"d":"2026-07-06","c":419.8,"m":1995},{"d":"2026-07-06","c":423.2,"m":2027},{"d":"2026-07-06","c":426.6,"m":2004},{"d":"2026-07-06","c":430.0,"m":2039},
{"d":"2026-07-07","c":414.8,"m":2023},{"d":"2026-07-07","c":418.2,"m":2057},{"d":"2026-07-07","c":421.6,"m":2000},{"d":"2026-07-07","c":425.0,"m":2034},{"d":"2026-07-07","c":428.4,"m":2011},{"d":"2026-07-07","c":431.8,"m":2046},
{"d":"2026-07-08","c":413.7,"m":2019},{"d":"2026-07-08","c":417.1,"m":2053},{"d":"2026-07-08","c":420.5,"m":1997},{"d":"2026-07-08","c":423.9,"m":2030},{"d":"2026-07-08","c":427.3,"m":2007},{"d":"2026-07-08","c":430.7,"m":2042},{"d":"2026-07-08","c":412.6,"m":2111},{"d":"2026-07-08","c":419.0,"m":2099},{"d":"2026-07-08","c":424.6,"m":2085},
{"d":"2026-07-09","c":414.0,"m":2031},{"d":"2026-07-09","c":417.4,"m":1998},{"d":"2026-07-09","c":420.8,"m":2054},{"d":"2026-07-09","c":424.2,"m":2008},{"d":"2026-07-09","c":427.6,"m":2043},{"d":"2026-07-09","c":431.0,"m":2020},
{"d":"2026-07-10","c":415.1,"m":2024},{"d":"2026-07-10","c":418.5,"m":2058},{"d":"2026-07-10","c":421.9,"m":2001},{"d":"2026-07-10","c":425.3,"m":2035},{"d":"2026-07-10","c":428.7,"m":2012},{"d":"2026-07-10","c":432.1,"m":2047},
{"d":"2026-07-11","c":413.3,"m":2017},{"d":"2026-07-11","c":416.7,"m":2051},{"d":"2026-07-11","c":420.1,"m":1996},{"d":"2026-07-11","c":423.5,"m":2028},{"d":"2026-07-11","c":426.9,"m":2005},{"d":"2026-07-11","c":430.3,"m":2040},{"d":"2026-07-11","c":423.0,"m":2068},
{"d":"2026-07-12","c":414.5,"m":2033},{"d":"2026-07-12","c":417.9,"m":1999},{"d":"2026-07-12","c":421.3,"m":2056},{"d":"2026-07-12","c":424.7,"m":2010},{"d":"2026-07-12","c":428.1,"m":2045},{"d":"2026-07-12","c":431.5,"m":2022},
{"d":"2026-07-13","c":413.0,"m":2027},{"d":"2026-07-13","c":416.4,"m":1995},{"d":"2026-07-13","c":419.8,"m":2050},{"d":"2026-07-13","c":423.2,"m":2004},{"d":"2026-07-13","c":426.6,"m":2039},{"d":"2026-07-13","c":430.0,"m":2016},
{"d":"2026-07-14","c":414.8,"m":2034},{"d":"2026-07-14","c":418.2,"m":2000},{"d":"2026-07-14","c":421.6,"m":2057},{"d":"2026-07-14","c":425.0,"m":2011},{"d":"2026-07-14","c":428.4,"m":2046},{"d":"2026-07-14","c":431.8,"m":2023},
{"d":"2026-07-15","c":413.7,"m":2019},{"d":"2026-07-15","c":417.1,"m":2053},{"d":"2026-07-15","c":420.5,"m":1997},{"d":"2026-07-15","c":423.9,"m":2030},{"d":"2026-07-15","c":427.3,"m":2007},{"d":"2026-07-15","c":430.7,"m":2042},
{"d":"2026-07-16","c":414.0,"m":2020},{"d":"2026-07-16","c":417.4,"m":2054},{"d":"2026-07-16","c":420.8,"m":1998},{"d":"2026-07-16","c":424.2,"m":2031},{"d":"2026-07-16","c":427.6,"m":2008},{"d":"2026-07-16","c":431.0,"m":2043},
{"d":"2026-07-17","c":415.1,"m":2035},{"d":"2026-07-17","c":418.5,"m":2001},{"d":"2026-07-17","c":421.9,"m":2058},{"d":"2026-07-17","c":425.3,"m":2012},{"d":"2026-07-17","c":428.7,"m":2047},{"d":"2026-07-17","c":432.1,"m":2024},
{"d":"2026-07-18","c":413.3,"m":2028},{"d":"2026-07-18","c":416.7,"m":1996},{"d":"2026-07-18","c":420.1,"m":2051},{"d":"2026-07-18","c":423.5,"m":2005},{"d":"2026-07-18","c":426.9,"m":2040},{"d":"2026-07-18","c":430.3,"m":2017},{"d":"2026-07-18","c":422.2,"m":1975},{"d":"2026-07-18","c":417.8,"m":1983},
{"d":"2026-07-19","c":414.5,"m":2022},{"d":"2026-07-19","c":417.9,"m":2056},{"d":"2026-07-19","c":421.3,"m":1999},{"d":"2026-07-19","c":424.7,"m":2033},{"d":"2026-07-19","c":428.1,"m":2010},{"d":"2026-07-19","c":431.5,"m":2045},
{"d":"2026-07-20","c":413.0,"m":2016},{"d":"2026-07-20","c":416.4,"m":2050},{"d":"2026-07-20","c":419.8,"m":1995},{"d":"2026-07-20","c":423.2,"m":2027},{"d":"2026-07-20","c":426.6,"m":2004},{"d":"2026-07-20","c":430.0,"m":2039},
{"d":"2026-07-21","c":414.8,"m":2034},{"d":"2026-07-21","c":418.2,"m":2000},{"d":"2026-07-21","c":421.6,"m":2057},{"d":"2026-07-21","c":425.0,"m":2011},{"d":"2026-07-21","c":428.4,"m":2046},{"d":"2026-07-21","c":431.8,"m":2023},
{"d":"2026-07-22","c":413.7,"m":2030},{"d":"2026-07-22","c":417.1,"m":1997},{"d":"2026-07-22","c":420.5,"m":2053},{"d":"2026-07-22","c":423.9,"m":2007},{"d":"2026-07-22","c":427.3,"m":2042},{"d":"2026-07-22","c":430.7,"m":2019},
{"d":"2026-07-23","c":414.0,"m":2020},{"d":"2026-07-23","c":417.4,"m":2054},{"d":"2026-07-23","c":420.8,"m":1998},{"d":"2026-07-23","c":424.2,"m":2031},{"d":"2026-07-23","c":427.6,"m":2008},{"d":"2026-07-23","c":431.0,"m":2043},{"d":"2026-07-23","c":422.8,"m":2061},
{"d":"2026-07-24","c":415.1,"m":2024},{"d":"2026-07-24","c":418.5,"m":2058},{"d":"2026-07-24","c":421.9,"m":2001},{"d":"2026-07-24","c":425.3,"m":2035},{"d":"2026-07-24","c":428.7,"m":2012},{"d":"2026-07-24","c":432.1,"m":2047},
{"d":"2026-07-25","c":413.3,"m":2028},{"d":"2026-07-25","c":416.7,"m":1996},{"d":"2026-07-25","c":420.1,"m":2051},{"d":"2026-07-25","c":423.5,"m":2005},{"d":"2026-07-25","c":426.9,"m":2040},{"d":"2026-07-25","c":430.3,"m":2017},
{"d":"2026-07-26","c":414.5,"m":2022},{"d":"2026-07-26","c":417.9,"m":2056},{"d":"2026-07-26","c":421.3,"m":1999},{"d":"2026-07-26","c":424.7,"m":2033},{"d":"2026-07-26","c":428.1,"m":2010},{"d":"2026-07-26","c":431.5,"m":2045},
{"d":"2026-07-27","c":413.0,"m":2027},{"d":"2026-07-27","c":416.4,"m":1995},{"d":"2026-07-27","c":419.8,"m":2050},{"d":"2026-07-27","c":423.2,"m":2004},{"d":"2026-07-27","c":426.6,"m":2039},{"d":"2026-07-27","c":430.0,"m":2016},
{"d":"2026-07-28","c":412.0,"m":2020},{"d":"2026-07-28","c":416.4,"m":2050},{"d":"2026-07-28","c":420.8,"m":2077},{"d":"2026-07-28","c":425.2,"m":2090},{"d":"2026-07-28","c":429.6,"m":2107},{"d":"2026-07-28","c":434.0,"m":2151},{"d":"2026-07-28","c":440.5,"m":2035},{"d":"2026-07-28","c":431.6,"m":2005},{"d":"2026-07-28","c":418.0,"m":2040},
{"d":"2026-07-29","c":411.7,"m":2030},{"d":"2026-07-29","c":416.1,"m":2074},{"d":"2026-07-29","c":420.5,"m":2000},{"d":"2026-07-29","c":424.9,"m":2044},{"d":"2026-07-29","c":429.3,"m":2015},{"d":"2026-07-29","c":433.7,"m":2059},
{"d":"2026-07-30","c":412.4,"m":2045},{"d":"2026-07-30","c":416.4,"m":2001},{"d":"2026-07-30","c":420.8,"m":2075},{"d":"2026-07-30","c":425.2,"m":2016},{"d":"2026-07-30","c":429.6,"m":2060},{"d":"2026-07-30","c":434.0,"m":2031},
{"d":"2026-07-31","c":413.1,"m":2035},{"d":"2026-07-31","c":417.5,"m":2072},{"d":"2026-07-31","c":421.9,"m":2005},{"d":"2026-07-31","c":426.3,"m":2049},{"d":"2026-07-31","c":430.7,"m":2020},{"d":"2026-07-31","c":433.6,"m":2064},
{"d":"2026-08-01","c":412.8,"m":2028},{"d":"2026-08-01","c":415.7,"m":2072},{"d":"2026-08-01","c":420.1,"m":1998},{"d":"2026-08-01","c":424.5,"m":2042},{"d":"2026-08-01","c":428.9,"m":2013},{"d":"2026-08-01","c":433.3,"m":2057},
{"d":"2026-08-02","c":412.5,"m":2047},{"d":"2026-08-02","c":416.9,"m":2003},{"d":"2026-08-02","c":421.3,"m":2075},{"d":"2026-08-02","c":425.7,"m":2018},{"d":"2026-08-02","c":430.1,"m":2062},{"d":"2026-08-02","c":434.5,"m":2033},
{"d":"2026-08-03","c":411.9,"m":2027},{"d":"2026-08-03","c":415.4,"m":2071},{"d":"2026-08-03","c":419.8,"m":1997},{"d":"2026-08-03","c":424.2,"m":2041},{"d":"2026-08-03","c":428.6,"m":2012},{"d":"2026-08-03","c":433.0,"m":2056},
{"d":"2026-08-04","c":412.4,"m":2024},{"d":"2026-08-04","c":415.7,"m":2047},{"d":"2026-08-04","c":419.1,"m":2009},{"d":"2026-08-04","c":422.4,"m":2032},{"d":"2026-08-04","c":425.7,"m":2017},{"d":"2026-08-04","c":429.1,"m":2039},{"d":"2026-08-04","c":420.0,"m":2094},{"d":"2026-08-04","c":425.0,"m":2070},
{"d":"2026-08-05","c":413.4,"m":2020},{"d":"2026-08-05","c":415.0,"m":2043},{"d":"2026-08-05","c":418.3,"m":2005},{"d":"2026-08-05","c":421.7,"m":2028},{"d":"2026-08-05","c":425.0,"m":2013},{"d":"2026-08-05","c":428.0,"m":2035},
{"d":"2026-08-06","c":412.2,"m":2029},{"d":"2026-08-06","c":414.9,"m":2006},{"d":"2026-08-06","c":418.3,"m":2044},{"d":"2026-08-06","c":421.6,"m":2014},{"d":"2026-08-06","c":425.0,"m":2036},{"d":"2026-08-06","c":428.3,"m":2021},
{"d":"2026-08-07","c":412.7,"m":2025},{"d":"2026-08-07","c":416.0,"m":2048},{"d":"2026-08-07","c":419.4,"m":2010},{"d":"2026-08-07","c":422.7,"m":2033},{"d":"2026-08-07","c":426.1,"m":2018},{"d":"2026-08-07","c":429.4,"m":2040},
{"d":"2026-08-08","c":414.1,"m":2026},{"d":"2026-08-08","c":411.8,"m":2003},{"d":"2026-08-08","c":417.6,"m":2041},{"d":"2026-08-08","c":420.9,"m":2011},{"d":"2026-08-08","c":424.3,"m":2033},{"d":"2026-08-08","c":427.6,"m":2018},
{"d":"2026-08-09","c":412.1,"m":2023},{"d":"2026-08-09","c":415.4,"m":2046},{"d":"2026-08-09","c":418.8,"m":2008},{"d":"2026-08-09","c":422.1,"m":2031},{"d":"2026-08-09","c":425.5,"m":2016},{"d":"2026-08-09","c":428.8,"m":2038},
{"d":"2026-08-10","c":412.6,"m":2025},{"d":"2026-08-10","c":413.9,"m":2002},{"d":"2026-08-10","c":417.3,"m":2040},{"d":"2026-08-10","c":420.6,"m":2010},{"d":"2026-08-10","c":424.0,"m":2032},{"d":"2026-08-10","c":427.3,"m":2017},
{"d":"2026-08-11","c":412.4,"m":2024},{"d":"2026-08-11","c":415.7,"m":2047},{"d":"2026-08-11","c":419.1,"m":2009},{"d":"2026-08-11","c":422.4,"m":2032},{"d":"2026-08-11","c":425.8,"m":2017},{"d":"2026-08-11","c":429.1,"m":2039},
{"d":"2026-08-12","c":413.7,"m":2028},{"d":"2026-08-12","c":415.0,"m":2005},{"d":"2026-08-12","c":418.3,"m":2043},{"d":"2026-08-12","c":421.7,"m":2013},{"d":"2026-08-12","c":425.0,"m":2035},{"d":"2026-08-12","c":428.0,"m":2020},
{"d":"2026-08-13","c":411.8,"m":2021},{"d":"2026-08-13","c":414.9,"m":2044},{"d":"2026-08-13","c":418.3,"m":2006},{"d":"2026-08-13","c":421.6,"m":2029},{"d":"2026-08-13","c":425.0,"m":2014},{"d":"2026-08-13","c":428.3,"m":2036},
{"d":"2026-08-14","c":412.7,"m":2033},{"d":"2026-08-14","c":416.0,"m":2010},{"d":"2026-08-14","c":419.4,"m":2048},{"d":"2026-08-14","c":422.7,"m":2018},{"d":"2026-08-14","c":426.1,"m":2040},{"d":"2026-08-14","c":429.4,"m":2025},
{"d":"2026-08-15","c":412.9,"m":2018},{"d":"2026-08-15","c":414.2,"m":2041},{"d":"2026-08-15","c":417.6,"m":2003},{"d":"2026-08-15","c":420.9,"m":2026},{"d":"2026-08-15","c":424.3,"m":2011},{"d":"2026-08-15","c":427.6,"m":2033},
{"d":"2026-08-16","c":413.0,"m":2030},{"d":"2026-08-16","c":416.8,"m":2045},{"d":"2026-08-16","c":420.6,"m":2025},{"d":"2026-08-16","c":424.4,"m":2060},{"d":"2026-08-16","c":428.2,"m":2040},{"d":"2026-08-16","c":432.0,"m":2075},{"d":"2026-08-16","c":442.1,"m":2050},{"d":"2026-08-16","c":440.0,"m":2035},{"d":"2026-08-16","c":437.6,"m":2055},{"d":"2026-08-16","c":434.5,"m":2090},
{"d":"2026-08-17","c":413.5,"m":2045},{"d":"2026-08-17","c":417.3,"m":2100},{"d":"2026-08-17","c":421.1,"m":2060},{"d":"2026-08-17","c":424.9,"m":2110},{"d":"2026-08-17","c":428.7,"m":2080},{"d":"2026-08-17","c":431.5,"m":2030},{"d":"2026-08-17","c":419.0,"m":2095},
{"d":"2026-08-18","c":413.0,"m":2070},{"d":"2026-08-18","c":416.8,"m":2125},{"d":"2026-08-18","c":420.6,"m":2040},{"d":"2026-08-18","c":424.4,"m":2115},{"d":"2026-08-18","c":428.2,"m":2095},{"d":"2026-08-18","c":432.0,"m":2055},{"d":"2026-08-18","c":422.0,"m":2085},
{"d":"2026-08-19","c":413.8,"m":2100},{"d":"2026-08-19","c":417.6,"m":2140},{"d":"2026-08-19","c":421.4,"m":2060},{"d":"2026-08-19","c":425.2,"m":2155},{"d":"2026-08-19","c":429.0,"m":2130},{"d":"2026-08-19","c":431.0,"m":2075},{"d":"2026-08-19","c":419.0,"m":2120},
{"d":"2026-08-20","c":413.2,"m":2120},{"d":"2026-08-20","c":417.0,"m":2160},{"d":"2026-08-20","c":420.8,"m":2090},{"d":"2026-08-20","c":424.6,"m":2167},{"d":"2026-08-20","c":428.4,"m":2148},{"d":"2026-08-20","c":432.0,"m":2105},{"d":"2026-08-20","c":422.0,"m":2135},
{"d":"2026-08-21","c":413.6,"m":2130},{"d":"2026-08-21","c":417.4,"m":2145},{"d":"2026-08-21","c":421.2,"m":2100},{"d":"2026-08-21","c":425.0,"m":2110},{"d":"2026-08-21","c":428.8,"m":2090},{"d":"2026-08-21","c":431.6,"m":2160},{"d":"2026-08-21","c":419.0,"m":2080},
{"d":"2026-08-22","c":414.0,"m":2100},{"d":"2026-08-22","c":418.0,"m":2088},{"d":"2026-08-22","c":422.0,"m":2120},{"d":"2026-08-22","c":426.0,"m":2140},{"d":"2026-08-22","c":430.0,"m":2065},{"d":"2026-08-22","c":416.0,"m":2110}
  ]},
  "encoding": {
    "x": {
      "field": "d",
      "type": "temporal",
      "scale": {"type": "utc", "domain": [{"year": 2025, "month": 12, "date": 27, "hours": 5, "minutes": 30, "utc": true}, {"year": 2026, "month": 8, "date": 24, "hours": 20, "utc": true}]},
      "axis": {
        "title": "Date (month.year)",
        "titleColor": "black",
        "titlePadding": 6,
        "labelFontSize": 15,
        "labelColor": "black",
        "labelOverlap": false,
        "labelFlush": false,
        "format": "%m.%Y",
        "values": [
          {"year": 2026, "month": 1, "date": 1, "utc": true},
          {"year": 2026, "month": 2, "date": 1, "utc": true},
          {"year": 2026, "month": 3, "date": 1, "utc": true},
          {"year": 2026, "month": 4, "date": 1, "utc": true},
          {"year": 2026, "month": 5, "date": 1, "utc": true},
          {"year": 2026, "month": 6, "date": 1, "utc": true},
          {"year": 2026, "month": 7, "date": 1, "utc": true},
          {"year": 2026, "month": 8, "date": 1, "utc": true}
        ],
        "labelExpr": "utcmonth(datum.value) % 2 == 1 ? datum.label : ''",
        "tickSize": {"condition": {"test": "utcmonth(datum.value) % 2 == 1", "value": 5}, "value": 3},
        "grid": true,
        "gridColor": "#b0b0b0",
        "gridWidth": 0.8,
        "gridOpacity": {"condition": {"test": "utcmonth(datum.value) % 2 == 1", "value": 1}, "value": 0}
      }
    }
  },
  "layer": [
    {
      "mark": {"type": "point", "shape": "circle", "filled": false, "size": 28, "strokeWidth": 1, "color": "#0000ff", "opacity": 1},
      "encoding": {
        "y": {
          "field": "c",
          "type": "quantitative",
          "scale": {"domain": [409.85, 451.4], "nice": false, "zero": false},
          "axis": {"orient": "left", "title": "CO₂ [ppm]", "titleColor": "#0000ff", "labelColor": "#0000ff", "values": [410, 420, 430, 440, 450], "titlePadding": 8}
        }
      }
    },
    {
      "mark": {"type": "point", "shape": "circle", "filled": false, "size": 28, "strokeWidth": 1, "color": "#8b0000", "opacity": 1},
      "encoding": {
        "y": {
          "field": "m",
          "type": "quantitative",
          "scale": {"domain": [1963.7, 2176.6], "nice": false, "zero": false},
          "axis": {"orient": "right", "title": "CH₄ [ppb]", "titleAngle": 270, "titleBaseline": "top", "titleColor": "#8b0000", "labelColor": "#8b0000", "format": "d", "values": [2000, 2050, 2100, 2150], "titlePadding": 6}
        }
      }
    }
  ],
  "resolve": {"scale": {"y": "independent"}}
}
